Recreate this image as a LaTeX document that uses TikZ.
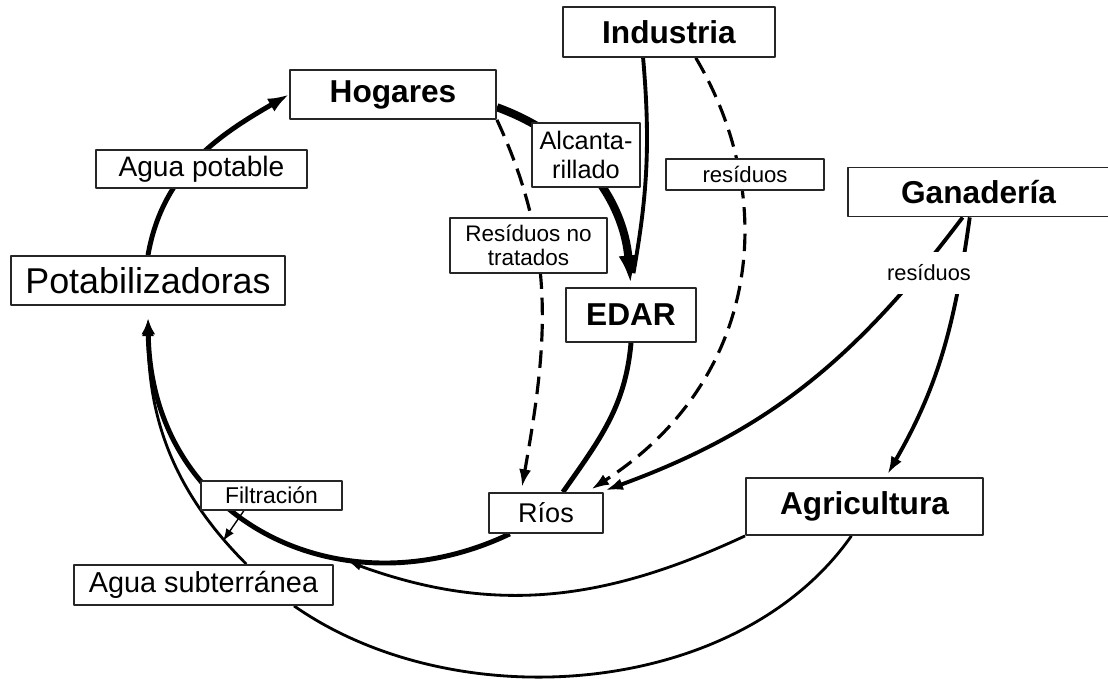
\documentclass[tikz,border=0pt]{standalone}
\usepackage{fontspec}
\setmainfont{Liberation Sans}
\usetikzlibrary{arrows.meta,backgrounds}

\tikzset{
  caja/.style={draw=black!85, line width=0.5pt, fill=white, inner sep=0pt, align=center},
  titulo/.style={caja, font=\bfseries\fontsize{9}{10}\selectfont},
  punta/.style={-{Latex[length=5pt,width=3.4pt]}},
  puntachica/.style={-{Latex[length=3.5pt,width=2.6pt]}},
  discont/.style={line width=0.9pt, dash pattern=on 5pt off 2.5pt},
  flujo/.style={line width=1.4pt},
  fino/.style={line width=0.8pt},
}

\begin{document}
\begin{tikzpicture}[x=0.01cm, y=0.01cm, line cap=round, line join=round]
	\useasboundingbox (0,0) rectangle (1108,-679);

	% Nodos principales
	\node[titulo, minimum width=21.2mm, minimum height=5mm] (industria) at (669,-32) {Industria};
	\node[titulo, minimum width=20.6mm, minimum height=4.9mm] (hogares) at (393,-94.5) {Hogares};
	\node[titulo, minimum width=26.1mm, minimum height=4.9mm] (ganaderia) at (978.5,-192) {Ganadería};
	\node[titulo, minimum width=13mm, minimum height=5.4mm] (edar) at (631,-315) {EDAR};
	\node[titulo, minimum width=23.7mm, minimum height=5.7mm] (agricultura) at (864.5,-506.5) {Agricultura};
	\node[caja, minimum width=27.4mm, minimum height=4.9mm, font=\fontsize{10.2}{12}\selectfont] (potab) at (148,-280.5) {Potabilizadoras};
	\node[caja, minimum width=11.4mm, minimum height=4mm, font=\fontsize{7.7}{9}\selectfont] (rios) at (546,-513) {Ríos};
	\node[caja, minimum width=25.9mm, minimum height=4mm, font=\fontsize{8.2}{9}\selectfont] (aguasub) at (203.5,-585) {Agua subterránea};

	% Etiquetas de los flujos
	\node[caja, minimum width=21.1mm, minimum height=3.8mm, font=\fontsize{8}{9}\selectfont] (aguapot) at (201.5,-169) {Agua potable};
	\node[caja, minimum width=10.8mm, minimum height=6.4mm, font=\fontsize{7.2}{8}\selectfont] (alcant) at (586,-155) {Alcanta-\\rillado};
	\node[caja, minimum width=15.8mm, minimum height=3.1mm, font=\fontsize{6.3}{7}\selectfont] (resind) at (745,-174.5) {resíduos};
	\node[caja, minimum width=15.7mm, minimum height=5.5mm, font=\fontsize{6.4}{6.8}\selectfont] (resno) at (528.5,-245.5) {Resíduos no\\tratados};
	\node[caja, minimum width=14.1mm, minimum height=2.9mm, font=\fontsize{6.5}{7}\selectfont] (filtr) at (271.5,-495.5) {Filtración};
	\node[fill=white, inner sep=0pt, minimum width=9mm, minimum height=4.2mm, font=\fontsize{6.2}{7}\selectfont] (resgan) at (929,-273) {resíduos};

	% Puntos de llegada
	\coordinate (junta) at (349,-562);
	\coordinate (filtro) at (223,-541);

	% Flujos
	\begin{scope}[on background layer]
		\draw[flujo, -{Latex[length=6pt,width=4.2pt]}] (potab.north) to[out=80, in=210] (hogares.west);
		\draw[line width=2.3pt, -{Latex[length=8pt,width=5.5pt]}, shorten >=1pt] (hogares.-7) to[out=-20, in=95] (edar.north);
		\draw[line width=1.1pt, shorten >=4pt] (industria.225) to[out=-85, in=80] (edar.north);
		\draw[discont, punta, shorten >=1.5pt] (hogares.south east) to[out=-65, in=80] (rios.140);
		\draw[discont, punta, shorten >=1.5pt] (industria.-44) .. controls (780,-200) and (760,-380) .. (rios.27);
		\draw[line width=1.1pt, punta, shorten >=1.5pt] (ganaderia.238) to[out=233, in=20] (rios.21);
		\draw[line width=1.1pt, punta, shorten >=1pt] (ganaderia.251) to[out=-98, in=60] (agricultura.54);
		\draw[flujo] (edar.south) to[out=-95, in=55] (rios.51);
		\draw[flujo, -{Latex[length=4.5pt,width=4pt]}, shorten >=3.6pt] (rios.210) .. controls (340,-615) and (150,-520) .. (potab.south);
		\draw[fino, puntachica] (agricultura.south west) to[out=205, in=-20] (junta);
		\draw[fino] (agricultura.246) to[out=235, in=-35, looseness=0.9] (aguasub.-13);
		\draw[fino, punta, shorten >=3.6pt] (aguasub.26) to[out=135, in=-90] (potab.south);
		\draw[line width=0.4pt, puntachica] (filtr.209) -- (filtro);
	\end{scope}
\end{tikzpicture}
\end{document}
